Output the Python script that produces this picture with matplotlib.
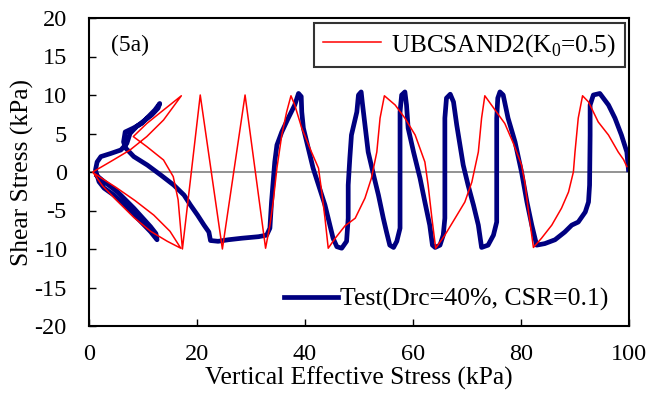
import matplotlib.pyplot as plt

plt.rcParams["font.family"] = "Liberation Serif"
plt.rcParams["mathtext.fontset"] = "custom"
plt.rcParams["mathtext.rm"] = "Liberation Serif"
plt.rcParams["axes.unicode_minus"] = False

# UBCSAND2 simulation (vertical effective stress, shear stress), in load order
red_x = [99.6, 99.0, 98.0, 96.2, 94.3, 92.5, 91.4,
         90.6, 90.0, 89.7, 88.8, 87.5, 85.7, 83.8, 82.3,
         81.4, 80.7, 80.1, 78.6, 77.0, 75.2, 73.3,
         72.7, 72.1, 70.9, 69.6, 67.8, 65.9, 64.2,
         63.5, 62.8, 62.2, 60.4, 58.5, 56.7, 54.7,
         53.9, 53.3, 52.3, 51.1, 49.3, 47.4, 45.6, 44.3,
         43.7, 43.1, 42.5, 41.2, 39.4, 38.1, 37.4,
         36.6, 35.7, 34.8, 34.1, 33.5, 32.7,
         28.9, 24.7, 20.6, 17.3,
         16.5, 15.6, 13.8, 10.7, 8.2, 10.7, 13.8, 17.1,
         13.8, 10.7, 7.6, 4.5, 0.7,
         2.5, 5.0, 8.3, 11.4, 14.5, 17.0,
         15.0, 12.0, 8.5, 5.0, 1.0]
red_y = [0.7, 1.6, 2.6, 4.8, 6.5, 9.1, 9.9,
         7.0, 2.6, 0.0, -2.6, -4.7, -6.9, -8.6, -9.8,
         -5.2, -1.3, 0.9, 3.7, 6.3, 8.05, 9.9,
         7.0, 2.6, -1.3, -3.9, -6.0, -8.2, -9.9,
         -6.0, -1.7, 1.3, 4.8, 7.0, 8.7, 9.9,
         7.0, 2.6, -0.8, -3.4, -6.0, -7.0, -8.6, -9.9,
         -6.0, -2.6, 0.5, 2.6, 5.7, 8.7, 9.9,
         7.8, 4.8, 0.5, -3.9, -6.9, -9.9,
         10.0, -10.0, 10.0, -10.0,
         -3.6, -0.6, 1.56, 3.3, 4.6, 6.3, 8.05, 9.9,
         6.75, 4.6, 2.86, 1.56, 0.0,
         -1.8, -3.6, -5.9, -7.7, -9.0, -9.9,
         -7.7, -5.6, -3.7, -2.0, -0.2]

# Test data (Drc=40%, CSR=0.1)
test_x = [99.9, 99.6, 98.6, 97.4, 96.2, 94.6, 93.4, 92.8, 92.8, 92.7, 92.5, 91.9,
          90.6, 89.4, 88.1, 86.3, 84.4, 82.9,
          82.0, 81.1, 80.1, 78.9, 77.6, 76.7, 76.1, 75.7, 75.5, 75.5, 75.5, 75.5,
          74.9, 73.9, 72.7,
          72.1, 71.2, 70.2, 69.3, 68.7, 68.1, 67.5, 66.9, 66.2, 65.9, 65.9, 65.9,
          65.6, 65.0, 64.1, 63.6,
          63.1, 62.2, 61.3, 60.1, 59.1, 58.8, 58.5, 57.9, 57.6, 57.6, 57.6, 57.6,
          57.0, 56.4, 55.7,
          55.1, 54.5, 53.6, 52.7, 51.7, 51.1, 50.6, 50.4, 49.9, 49.6, 48.6, 48.3,
          48.0, 48.0, 47.7, 46.8, 45.9,
          45.2, 44.6, 43.7, 42.5, 41.5, 40.6, 39.7, 39.4, 39.3, 38.8, 38.1, 36.9,
          35.7, 34.8, 34.4, 34.1, 33.8, 33.5, 32.9, 31.4, 28.3, 25.8, 23.9, 22.5,
          22.2, 21.3, 20.1, 18.8, 17.6, 15.7, 13.3, 10.8, 8.3, 6.8, 6.4,
          6.7, 8.2, 9.75, 11.0, 12.2, 13.1, 12.8, 11.6, 10.4, 8.8, 7.6, 7.0,
          5.9, 4.0, 2.2, 1.5, 1.2,
          1.85, 2.8, 4.6, 7.1, 9.6, 11.4, 12.6, 12.4, 11.4, 8.3, 5.25, 2.8, 1.5]
test_y = [0.3, 2.6, 4.8, 7.0, 8.7, 10.2, 10.0, 8.7, 4.8, -1.7, -3.9, -5.2,
          -6.5, -6.9, -7.8, -8.8, -9.3, -9.5,
          -6.9, -3.9, 0.0, 3.9, 7.0, 10.0, 10.4, 9.6, 7.0, 2.6, -1.7, -6.5,
          -8.2, -9.5, -9.8,
          -6.9, -4.3, -1.7, 0.9, 3.5, 6.1, 9.1, 10.1, 9.6, 7.0, 2.6, -6.0,
          -8.2, -9.5, -9.8, -9.5,
          -6.9, -3.9, -0.8, 2.6, 5.7, 8.7, 10.4, 10.0, 7.8, 2.6, -1.7, -7.3,
          -9.0, -9.8, -9.5,
          -7.8, -6.0, -3.0, -0.4, 2.6, 6.1, 9.1, 10.4, 10.0, 7.8, 4.8, 1.8,
          -1.7, -6.0, -9.0, -9.9, -9.7,
          -8.6, -6.9, -4.3, -1.7, 0.5, 3.1, 5.7, 7.8, 9.8, 10.2, 8.7, 7.0,
          5.2, 3.5, 1.3, -1.3, -3.9, -7.3, -8.2, -8.4, -8.6, -8.8, -9.0, -8.9,
          -7.8, -6.9, -5.6, -4.3, -3.0, -1.7, -0.4, 0.9, 2.0, 3.1, 3.9,
          5.2, 5.7, 6.3, 7.2, 8.05, 8.9, 8.3, 7.4, 6.75, 5.9, 5.0, 3.7,
          2.86, 2.4, 2.0, 1.3, 0.26,
          -1.26, -2.1, -3.0, -4.7, -6.45, -7.75, -8.8, -8.0, -7.1, -4.7, -2.56, -1.26, -0.5]

fig = plt.figure(figsize=(6.49, 4.13), dpi=100)
ax = fig.add_axes([89 / 649, 1 - 326 / 413, 540 / 649, 308 / 413])

ax.axhline(0, color="#808080", lw=1.2, zorder=1)
l_red, = ax.plot(red_x, red_y, color="#ff0000", lw=1.1, zorder=3,
                 label=r"UBCSAND2(K$_\mathrm{0}$=0.5)")
l_test, = ax.plot(test_x, test_y, color="#000080", lw=3.4, zorder=2,
                  solid_joinstyle="round", label="Test(Drc=40%, CSR=0.1)")

ax.set_xlim(0, 100)
ax.set_ylim(-20, 20)
ax.set_xticks(range(0, 101, 20))
ax.set_yticks(range(-20, 21, 5))
ax.tick_params(direction="in", length=5, width=1, labelsize=17.5)
ax.tick_params(axis="x", pad=13)
ax.tick_params(axis="y", pad=16)
for s in ax.spines.values():
    s.set_linewidth(1.5)

ax.set_xlabel("Vertical Effective Stress (kPa)", fontsize=18.4, labelpad=1)
ax.set_ylabel("Shear Stress (kPa)", fontsize=18.4, labelpad=0)

ax.text(0.04, 0.912, "(5a)", transform=ax.transAxes, fontsize=17, va="center")

leg1 = ax.legend(handles=[l_red], loc="upper right", bbox_to_anchor=(0.993, 0.984),
                 fontsize=18.2, frameon=True, fancybox=False, handlelength=2.3,
                 borderaxespad=0, borderpad=0.35, handletextpad=0.4)
leg1.get_frame().set_edgecolor("black")
leg1.get_frame().set_linewidth(1.5)
ax.add_artist(leg1)

ax.legend(handles=[l_test], loc="lower right", bbox_to_anchor=(0.98, 0.015),
          fontsize=18.5, frameon=False, handlelength=2.1, borderaxespad=0,
          handletextpad=0.05)

fig.savefig("out.png", dpi=100)
